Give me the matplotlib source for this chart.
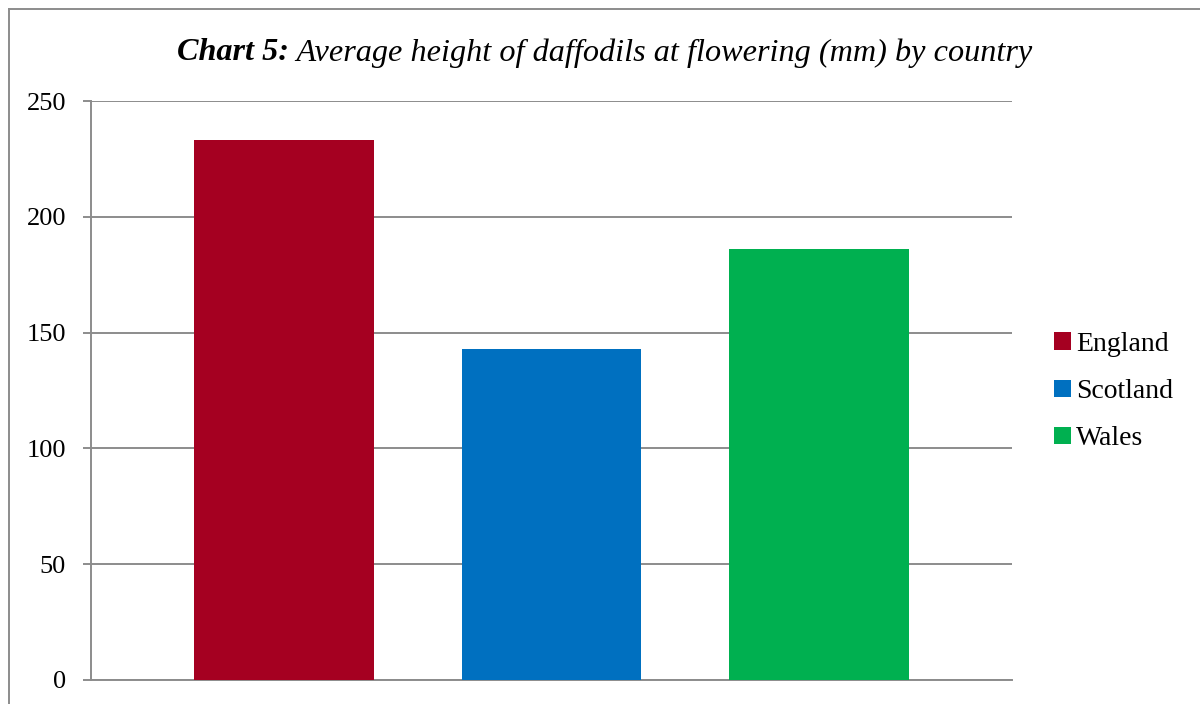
import matplotlib
matplotlib.use("Agg")
import matplotlib.pyplot as plt
from matplotlib.lines import Line2D
from matplotlib.patches import Patch

# data
countries = ["England", "Scotland", "Wales"]
heights = [233, 143, 186]
colors = ["#A50021", "#0070C0", "#00B050"]
yticks = [0, 50, 100, 150, 200, 250]

plt.rcParams["font.family"] = ["Liberation Serif", "DejaVu Serif"]

W, H = 1200, 704
fig = plt.figure(figsize=(W / 100, H / 100), dpi=100)
ax = fig.add_axes([91 / W, 1 - 680 / H, (1012 - 91) / W, (680 - 101) / H])

grey = "#8c8c8c"
ax.bar(range(len(countries)), heights, width=0.672, color=colors, zorder=3)
ax.set_xlim(-0.72, 2.72)
ax.set_ylim(0, 250)
ax.set_yticks(yticks)
ax.set_xticks([])
ax.yaxis.grid(True, color=grey, linewidth=1.4, zorder=0)
ax.tick_params(axis="y", length=6, width=1.4, color=grey, labelsize=19, pad=12)
for s in ["top", "right"]:
    ax.spines[s].set_visible(False)
ax.spines["left"].set_color(grey)
ax.spines["left"].set_linewidth(1.4)
ax.spines["bottom"].set_color(grey)
ax.spines["bottom"].set_linewidth(1.4)

# legend
handles = [Patch(facecolor=c, edgecolor="none") for c in colors]
fig.legend(handles, countries, loc="upper left", bbox_to_anchor=(1029 / W, 1 - 307 / H),
           frameon=False, fontsize=20, handlelength=0.6, handleheight=0.6,
           handletextpad=0.2, labelspacing=0.8)

# title: bold italic prefix + italic rest
fig.canvas.draw()
r = fig.canvas.get_renderer()
ty = 1 - 53 / H
t1 = fig.text(0, ty, "Chart 5:", fontsize=23.2, fontweight="bold", fontstyle="italic", va="center")
t2 = fig.text(0, ty, " Average height of daffodils at flowering (mm) by country",
              fontsize=23.2, fontstyle="italic", va="center")
w1 = t1.get_window_extent(r).width
w2 = t2.get_window_extent(r).width
x0 = 605 - (w1 + w2) / 2
t1.set_x(x0 / W)
t2.set_x((x0 + w1) / W)

# outer chart frame (cropped at right and bottom)
fig.add_artist(Line2D([9 / W, 1], [1 - 9 / H, 1 - 9 / H], color=grey, lw=1.4))
fig.add_artist(Line2D([9 / W, 9 / W], [0, 1 - 9 / H], color=grey, lw=1.4))

fig.savefig("out.png", dpi=100)
